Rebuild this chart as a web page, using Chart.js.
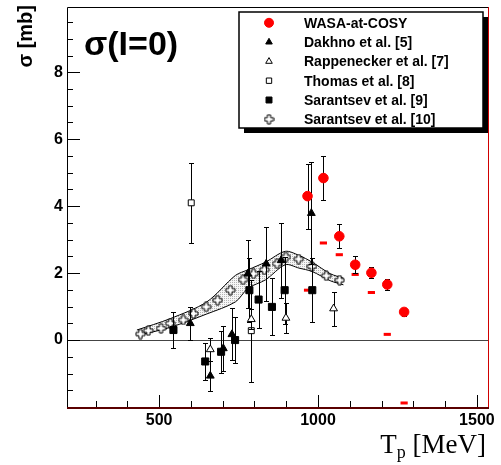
<!DOCTYPE html>
<html>
<head>
<meta charset="utf-8">
<script src="https://cdn.jsdelivr.net/npm/chart.js@4.4.1/dist/chart.umd.min.js"></script>
<style>
  html, body { margin: 0; padding: 0; background: #fff; }
</style>
</head>
<body>
<canvas id="c" width="501" height="465"></canvas>
<script>
// values: x = T_p [MeV], y = sigma [mb]
var wasaX = [967, 1017, 1067, 1117, 1168, 1218, 1271];
var wasaY = [4.30, 4.84, 3.10, 2.25, 2.01, 1.66, 0.84];
var wasaErr = [0.97, 0.67, 0.36, 0.25, 0.17, 0.15, 0.13];
var wasaAltY = [1.49, 2.90, 2.55, 1.96, 1.42, 0.17, -1.88];

var dakhnoX = [598, 661, 702, 729, 779, 837, 884, 979];
var dakhnoY = [0.50, -1.07, -0.25, 0.17, 1.98, 2.28, 2.38, 3.79];
var dakhnoErr = [0.50, 0.45, 0.67, 0.78, 1.02, 1.10, 1.12, 1.52];

var rappX = [661, 790, 899, 1049];
var rappY = [-0.28, 0.62, 0.66, 0.94];
var rappErr = [0.35, 0.30, 0.45, 0.51];

var thomasX = [601, 790];
var thomasY = [4.10, 0.28];
var thomasErr = [1.20, 1.52];

var sar9X = [545, 645, 695, 739, 784, 813, 855, 895, 982];
var sar9Y = [0.30, -0.64, -0.35, 0.00, 1.49, 1.21, 0.99, 1.49, 1.49];
var sar9Err = [0.53, 0.55, 0.62, 0.70, 0.95, 0.85, 0.85, 1.00, 0.95];

var sar10X = [441, 466, 506, 535, 576, 608, 648, 684, 724, 764, 797, 831, 871, 899, 939, 981, 1026, 1068];
var sar10Y = [0.18, 0.28, 0.35, 0.50, 0.60, 0.79, 0.99, 1.19, 1.49, 1.80, 1.98, 2.10, 2.28, 2.48, 2.42, 2.20, 1.92, 1.79];

var bandX = [430, 535, 650, 740, 780, 835, 897, 940, 981, 1039, 1080];
var bandHi = [0.30, 0.64, 1.14, 1.93, 2.10, 2.33, 2.65, 2.53, 2.33, 1.98, 1.85];
var bandLo = [0.13, 0.38, 0.78, 1.14, 1.55, 1.80, 2.25, 2.15, 2.05, 1.77, 1.65];

var xTicks = [500, 1000, 1500];
var yTicks = [0, 2, 4, 6, 8];

var SANS = "'Liberation Sans', Arial, sans-serif";
var SERIF = "'Liberation Serif', 'Times New Roman', serif";

function pts(xs, ys) {
  return xs.map(function (x, i) { return { x: x, y: ys[i] }; });
}

// open cross marker (ROOT style)
var crossImg = document.createElement('canvas');
crossImg.width = 11; crossImg.height = 11;
(function () {
  var g = crossImg.getContext('2d');
  var s = 4.5, a = 1.6;
  g.translate(5.5, 5.5);
  g.beginPath();
  g.moveTo(-a, -s); g.lineTo(a, -s); g.lineTo(a, -a); g.lineTo(s, -a);
  g.lineTo(s, a); g.lineTo(a, a); g.lineTo(a, s); g.lineTo(-a, s);
  g.lineTo(-a, a); g.lineTo(-s, a); g.lineTo(-s, -a); g.lineTo(-a, -a);
  g.closePath();
  g.fillStyle = '#fff'; g.fill();
  g.strokeStyle = '#000'; g.lineWidth = 1; g.stroke();
})();

var canvas = document.getElementById('c');
var ctx = canvas.getContext('2d');

// stippled grey for the band
var pc = document.createElement('canvas');
pc.width = 2; pc.height = 2;
(function () {
  var g = pc.getContext('2d');
  g.fillStyle = '#f6f6f6'; g.fillRect(0, 0, 2, 2);
  g.fillStyle = '#b4b4b4'; g.fillRect(0, 0, 1, 1);
})();
var bandFill = ctx.createPattern(pc, 'repeat');

var errorBars = {
  id: 'errorBars',
  beforeDatasetDraw: function (chart, args) {
    var ds = chart.data.datasets[args.index];
    if (!ds.err) return;
    var c = chart.ctx, xs = chart.scales.x, ys = chart.scales.y;
    c.save();
    c.strokeStyle = '#000';
    c.lineWidth = 1;
    ds.data.forEach(function (p, i) {
      var px = Math.round(xs.getPixelForValue(p.x)) + 0.5;
      var y1 = Math.round(ys.getPixelForValue(p.y + ds.err[i])) + 0.5;
      var y2 = Math.round(ys.getPixelForValue(p.y - ds.err[i])) + 0.5;
      c.beginPath();
      c.moveTo(px, y1); c.lineTo(px, y2);
      c.moveTo(px - 2.5, y1); c.lineTo(px + 2.5, y1);
      c.moveTo(px - 2.5, y2); c.lineTo(px + 2.5, y2);
      c.stroke();
    });
    c.restore();
  }
};

var frame = {
  id: 'frame',
  beforeDatasetsDraw: function (chart) {
    var c = chart.ctx, a = chart.chartArea, ys = chart.scales.y;
    var y0 = Math.round(ys.getPixelForValue(0)) + 0.5;
    c.save();
    c.strokeStyle = '#444';
    c.lineWidth = 1;
    c.beginPath(); c.moveTo(a.left, y0); c.lineTo(a.right, y0); c.stroke();
    c.restore();
  },
  afterDatasetsDraw: function (chart) {
    var c = chart.ctx, a = chart.chartArea, xs = chart.scales.x, ys = chart.scales.y;
    c.save();
    c.strokeStyle = '#000';
    c.lineWidth = 1;
    c.beginPath();
    for (var k = -4; k <= 19; k++) {
      var v = k * 0.5;
      var py = Math.round(ys.getPixelForValue(v)) + 0.5;
      var len = (k % 4 === 0) ? 13 : 6;
      c.moveTo(a.left, py); c.lineTo(a.left + len, py);
    }
    for (var m = 3; m <= 15; m++) {
      var px = Math.round(xs.getPixelForValue(m * 100)) + 0.5;
      var l2 = (m % 5 === 0) ? 12 : 6;
      c.moveTo(px, a.bottom); c.lineTo(px, a.bottom - l2);
    }
    c.stroke();
    // box
    c.beginPath();
    c.moveTo(a.left + 0.5, a.bottom); c.lineTo(a.left + 0.5, a.top + 0.5); c.lineTo(a.right, a.top + 0.5);
    c.stroke();
    c.strokeStyle = '#d00000';
    c.beginPath(); c.moveTo(a.right + 0.5, a.top); c.lineTo(a.right + 0.5, a.bottom); c.stroke();
    c.strokeStyle = '#5a0000';
    c.lineWidth = 2;
    c.beginPath(); c.moveTo(a.left, a.bottom + 1); c.lineTo(a.right + 1, a.bottom + 1); c.stroke();
    c.restore();
  }
};

var labels = {
  id: 'labels',
  afterDraw: function (chart) {
    var c = chart.ctx;
    c.save();
    c.fillStyle = '#000';
    // big label
    c.font = 'bold 34px ' + SANS;
    c.textBaseline = 'alphabetic';
    c.textAlign = 'left';
    c.fillText('σ(I=0)', 84, 55);
    // y title
    c.save();
    c.translate(32, 5);
    c.rotate(-Math.PI / 2);
    c.textAlign = 'right';
    c.font = 'bold 20px ' + SANS;
    c.fillText('σ [mb]', 0, 0);
    c.restore();
    // x title
    c.font = '27px ' + SERIF;
    var wT = c.measureText('T').width;
    var wRest = c.measureText(' [MeV]').width;
    c.font = '18px ' + SERIF;
    var wP = c.measureText('p').width;
    var x0 = 486 - wT - wP - wRest;
    c.font = '27px ' + SERIF;
    c.fillText('T', x0, 453);
    c.font = '18px ' + SERIF;
    c.fillText('p', x0 + wT, 458);
    c.font = '27px ' + SERIF;
    c.fillText(' [MeV]', x0 + wT + wP, 453);
    c.restore();
  }
};

var legendBox = {
  id: 'legendBox',
  afterDraw: function (chart) {
    var c = chart.ctx;
    var L = 239, T = 12, W = 244, H = 116;
    c.save();
    c.fillStyle = '#000';
    c.fillRect(L + 5, T + 5, W, H);
    c.fillStyle = '#fff';
    c.fillRect(L, T, W, H);
    c.strokeStyle = '#000';
    c.lineWidth = 1.5;
    c.strokeRect(L, T, W, H);
    c.font = 'bold 14px ' + SANS;
    c.textBaseline = 'alphabetic';
    c.textAlign = 'left';
    for (var i = 0; i < 6; i++) {
      var ds = chart.data.datasets[i];
      var y = 22.8 + i * 19.3;
      c.fillStyle = ds.backgroundColor;
      c.strokeStyle = ds.borderColor;
      c.lineWidth = ds.borderWidth;
      Chart.helpers.drawPoint(c, {
        pointStyle: ds.pointStyle,
        radius: ds.legendRadius || ds.pointRadius,
        borderWidth: ds.borderWidth,
        rotation: 0
      }, 269, y);
      c.fillStyle = '#000';
      c.fillText(ds.label, 304, y + 5);
    }
    c.restore();
  }
};

var tickFont = { family: SANS, size: 16, weight: 'bold' };

function noPad(s) {
  s.paddingTop = 0; s.paddingBottom = 0; s.paddingLeft = 0; s.paddingRight = 0;
}

new Chart(ctx, {
  type: 'scatter',
  data: {
    datasets: [
      { label: 'WASA-at-COSY', data: pts(wasaX, wasaY), err: wasaErr,
        pointStyle: 'circle', pointRadius: 4.8, legendRadius: 4.5,
        backgroundColor: '#ff0000', borderColor: '#ff0000', borderWidth: 1 },
      { label: 'Dakhno et al. [5]', data: pts(dakhnoX, dakhnoY), err: dakhnoErr,
        pointStyle: 'triangle', pointRadius: 4.5, legendRadius: 3.8,
        backgroundColor: '#000', borderColor: '#000', borderWidth: 1 },
      { label: 'Rappenecker et al. [7]', data: pts(rappX, rappY), err: rappErr,
        pointStyle: 'triangle', pointRadius: 4.5, legendRadius: 3.8,
        backgroundColor: '#fff', borderColor: '#000', borderWidth: 1 },
      { label: 'Thomas et al. [8]', data: pts(thomasX, thomasY), err: thomasErr,
        pointStyle: 'rect', pointRadius: 4.2, legendRadius: 3.8,
        backgroundColor: '#fff', borderColor: '#000', borderWidth: 1 },
      { label: 'Sarantsev et al. [9]', data: pts(sar9X, sar9Y), err: sar9Err,
        pointStyle: 'rect', pointRadius: 5, legendRadius: 4.2,
        backgroundColor: '#000', borderColor: '#000', borderWidth: 1 },
      { label: 'Sarantsev et al. [10]', data: pts(sar10X, sar10Y),
        pointStyle: crossImg, pointRadius: 5,
        backgroundColor: '#fff', borderColor: '#000', borderWidth: 1 },
      { label: 'WASA (alt.)', data: pts(wasaX, wasaAltY),
        pointStyle: 'line', pointRadius: 3.6,
        backgroundColor: '#ff0000', borderColor: '#ff0000', borderWidth: 3 },
      { label: 'band upper', data: pts(bandX, bandHi), showLine: true,
        pointRadius: 0, borderColor: '#000', borderWidth: 1, tension: 0.3, fill: false },
      { label: 'band lower', data: pts(bandX, bandLo), showLine: true,
        pointRadius: 0, borderColor: '#000', borderWidth: 1, tension: 0.3,
        fill: '-1', backgroundColor: bandFill }
    ]
  },
  options: {
    responsive: false,
    animation: false,
    events: [],
    layout: { padding: { left: 0, right: 13, top: 6, bottom: 0 } },
    plugins: {
      legend: { display: false },
      tooltip: { enabled: false }
    },
    scales: {
      x: {
        type: 'linear', min: 210, max: 1535,
        grid: { display: false, drawTicks: false },
        border: { display: false },
        afterBuildTicks: function (s) { s.ticks = xTicks.map(function (v) { return { value: v }; }); },
        afterFit: function (s) { s.height = 58; noPad(s); },
        ticks: { font: tickFont, color: '#000', padding: 4, maxRotation: 0, autoSkip: false,
                 callback: function (v) { return String(v); } }
      },
      y: {
        type: 'linear', min: -2, max: 9.95,
        grid: { display: false, drawTicks: false },
        border: { display: false },
        afterBuildTicks: function (s) { s.ticks = yTicks.map(function (v) { return { value: v }; }); },
        afterFit: function (s) { s.width = 67; noPad(s); },
        ticks: { font: tickFont, color: '#000', padding: 4, autoSkip: false,
                 callback: function (v) { return String(v); } }
      }
    }
  },
  plugins: [errorBars, frame, labels, legendBox]
});
</script>
</body>
</html>
